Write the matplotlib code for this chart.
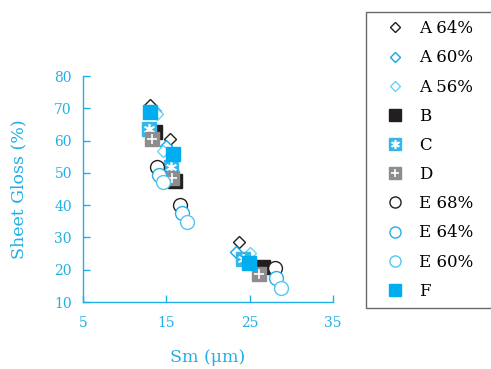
import matplotlib
matplotlib.use('Agg')
import matplotlib.pyplot as plt
from matplotlib.legend_handler import HandlerTuple

# Sheet gloss against surface roughness Sm for each sample
a64_sm = [13.0, 15.4, 23.7]
a64_gloss = [71.0, 60.5, 28.6]
a60_sm = [13.6, 14.9, 23.4]
a60_gloss = [69.2, 58.3, 25.5]
a56_sm = [13.9, 14.6, 25.0]
a56_gloss = [68.2, 56.8, 25.2]
b_sm = [13.6, 16.0, 26.6]
b_gloss = [62.6, 47.5, 20.8]
c_sm = [12.9, 15.5, 24.2]
c_gloss = [63.6, 51.8, 23.3]
d_sm = [13.3, 15.7, 26.1]
d_gloss = [60.5, 48.4, 18.7]
e68_sm = [13.9, 16.6, 28.0]
e68_gloss = [51.8, 40.0, 20.5]
e64_sm = [14.1, 16.9, 28.1]
e64_gloss = [49.3, 37.6, 17.4]
e60_sm = [14.6, 17.5, 28.7]
e60_gloss = [47.2, 34.8, 14.3]
f_sm = [13.0, 15.8, 24.9]
f_gloss = [68.8, 55.8, 22.1]

x_ticks = [5, 15, 25, 35]
y_ticks = [10, 20, 30, 40, 50, 60, 70, 80]

cyan = '#1fb0e6'
plt.rcParams['font.family'] = ['DejaVu Serif']

fig = plt.figure(figsize=(4.91, 3.69), dpi=100)
ax = fig.add_axes([83 / 491, 1 - 302 / 369, 250 / 491, 226 / 369])

dia = 6.5
sq = 10.5
circ = 10

h_a64, = ax.plot(a64_sm, a64_gloss, 'D', ms=dia, mfc='white', mec='#231f20', mew=1.0, ls='none')
h_a60, = ax.plot(a60_sm, a60_gloss, 'D', ms=dia, mfc='white', mec='#10a8e8', mew=1.0, ls='none')
h_a56, = ax.plot(a56_sm, a56_gloss, 'D', ms=dia, mfc='white', mec='#6fd0f5', mew=1.0, ls='none')
h_b, = ax.plot(b_sm, b_gloss, 's', ms=sq, mfc='#231f20', mec='#231f20', ls='none')
h_c1, = ax.plot(c_sm, c_gloss, 's', ms=sq, mfc='#35b8e8', mec='#35b8e8', ls='none')
h_c2, = ax.plot(c_sm, c_gloss, marker=(6, 2, 0), ms=sq * 0.75, mec='white', mew=1.2, ls='none')
h_d1, = ax.plot(d_sm, d_gloss, 's', ms=sq, mfc='#8d8d8f', mec='#8d8d8f', ls='none')
h_d2, = ax.plot(d_sm, d_gloss, '+', ms=sq * 0.75, mec='white', mew=1.2, ls='none')
h_e68, = ax.plot(e68_sm, e68_gloss, 'o', ms=circ, mfc='white', mec='#231f20', mew=1.0, ls='none')
h_e64, = ax.plot(e64_sm, e64_gloss, 'o', ms=circ, mfc='white', mec='#22b0ec', mew=1.0, ls='none')
h_e60, = ax.plot(e60_sm, e60_gloss, 'o', ms=circ, mfc='white', mec='#55c6f2', mew=1.0, ls='none')
h_f, = ax.plot(f_sm, f_gloss, 's', ms=sq, mfc='#00aeef', mec='#00aeef', ls='none')

ax.set_xlim(5, 35)
ax.set_ylim(10, 80)
ax.set_xticks(x_ticks)
ax.set_yticks(y_ticks)
for s in ['top', 'right']:
    ax.spines[s].set_visible(False)
for s in ['left', 'bottom']:
    ax.spines[s].set_color(cyan)
    ax.spines[s].set_linewidth(1.0)
ax.tick_params(direction='in', length=5, width=1.0, color=cyan, labelcolor=cyan, labelsize=10)
ax.tick_params(axis='y', pad=8)
ax.tick_params(axis='x', pad=10)
ax.set_xlabel('Sm (μm)', color=cyan, fontsize=12.5, labelpad=14)
ax.set_ylabel('Sheet Gloss (%)', color=cyan, fontsize=12.5, labelpad=19)

handles = [h_a64, h_a60, h_a56, h_b, (h_c1, h_c2), (h_d1, h_d2), h_e68, h_e64, h_e60, h_f]
labels = ['A 64%', 'A 60%', 'A 56%', 'B', 'C', 'D', 'E 68%', 'E 64%', 'E 60%', 'F']
leg = fig.legend(handles, labels, loc='upper left', bbox_to_anchor=(366 / 491, 1 - 12 / 369, 0.4, 0),
                 mode='expand', borderaxespad=0, fontsize=12, frameon=True, fancybox=False,
                 borderpad=0.5, handlelength=2.5, handletextpad=0.2, labelspacing=0.73,
                 markerscale=0.8, handler_map={tuple: HandlerTuple(ndivide=1)})
leg.get_frame().set_edgecolor('#444444')
leg.get_frame().set_linewidth(1.0)

fig.savefig('out.png', dpi=100)
